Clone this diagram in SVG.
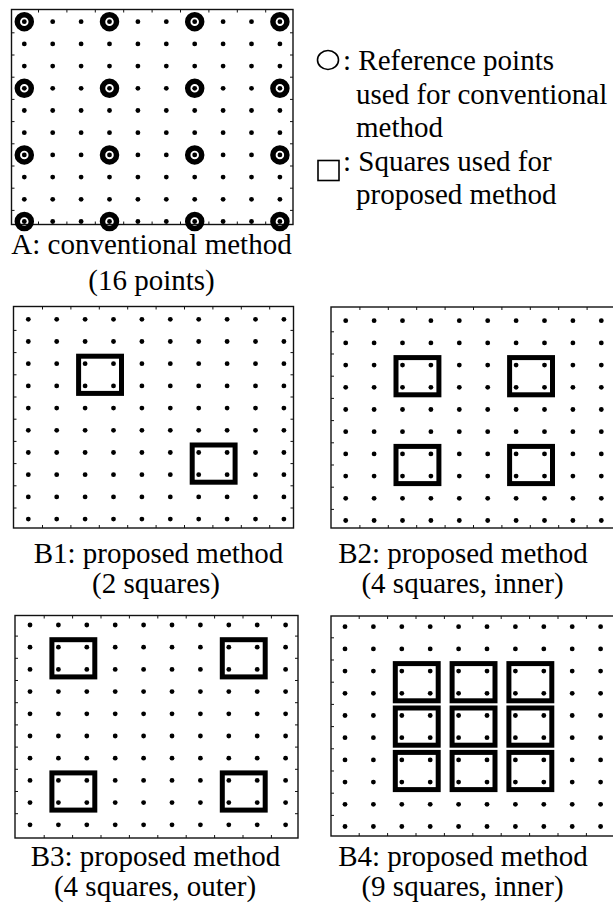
<svg xmlns="http://www.w3.org/2000/svg" width="613" height="905" viewBox="0 0 613 905">
<style>
.dot{fill:#000}
.frame{fill:none;stroke:#111;stroke-width:1.4}
.tick{fill:none;stroke:#111;stroke-width:1}
.ring{fill:none;stroke:#000;stroke-width:5.5}
.sq{fill:none;stroke:#000;stroke-width:5}
.sym{fill:none;stroke:#000;stroke-width:1.6}
text{font-family:"Liberation Serif","Times New Roman",serif;font-size:29px;fill:#000}
.c{text-anchor:middle}
</style>
<defs>
<g id="row">
<circle class="dot" cx="0" cy="0" r="2.4"/><circle class="dot" cx="28.4" cy="0" r="2.4"/><circle class="dot" cx="56.8" cy="0" r="2.4"/><circle class="dot" cx="85.2" cy="0" r="2.4"/><circle class="dot" cx="113.6" cy="0" r="2.4"/><circle class="dot" cx="142" cy="0" r="2.4"/><circle class="dot" cx="170.4" cy="0" r="2.4"/><circle class="dot" cx="198.8" cy="0" r="2.4"/><circle class="dot" cx="227.2" cy="0" r="2.4"/><circle class="dot" cx="255.6" cy="0" r="2.4"/>
</g>
<g id="grid">
<use href="#row" y="0"/><use href="#row" y="22.2"/><use href="#row" y="44.4"/><use href="#row" y="66.6"/><use href="#row" y="88.8"/><use href="#row" y="111"/><use href="#row" y="133.2"/><use href="#row" y="155.4"/><use href="#row" y="177.6"/><use href="#row" y="199.8"/>
</g>
<path id="ht" class="tick" d="M0 0v3M28.4 0v3M56.8 0v3M85.2 0v3M113.6 0v3M142 0v3M170.4 0v3M198.8 0v3M227.2 0v3"/>
<path id="vt" class="tick" d="M0 0h3M0 22.2h3M0 44.4h3M0 66.6h3M0 88.8h3M0 111h3M0 133.2h3M0 155.4h3M0 177.6h3"/>
</defs>
<rect x="0" y="0" width="613" height="905" fill="#fff"/>

<g id="panelA">
<rect class="frame" x="11.5" y="9.5" width="281.5" height="215"/>
<use href="#ht" x="38.5" y="9.5"/><use href="#ht" x="38.5" y="221.5"/>
<use href="#vt" x="11.5" y="32.8"/><use href="#vt" x="290" y="32.8"/>
<use href="#grid" x="24.3" y="21.7"/>
<circle class="ring" cx="24.3" cy="21.7" r="7"/><circle class="ring" cx="109.5" cy="21.7" r="7"/><circle class="ring" cx="194.7" cy="21.7" r="7"/><circle class="ring" cx="279.9" cy="21.7" r="7"/>
<circle class="ring" cx="24.3" cy="88.3" r="7"/><circle class="ring" cx="109.5" cy="88.3" r="7"/><circle class="ring" cx="194.7" cy="88.3" r="7"/><circle class="ring" cx="279.9" cy="88.3" r="7"/>
<circle class="ring" cx="24.3" cy="154.9" r="7"/><circle class="ring" cx="109.5" cy="154.9" r="7"/><circle class="ring" cx="194.7" cy="154.9" r="7"/><circle class="ring" cx="279.9" cy="154.9" r="7"/>
<circle class="ring" cx="24.3" cy="221.5" r="7"/><circle class="ring" cx="109.5" cy="221.5" r="7"/><circle class="ring" cx="194.7" cy="221.5" r="7"/><circle class="ring" cx="279.9" cy="221.5" r="7"/>
<text class="c" x="151.5" y="254">A: conventional method</text>
<text class="c" x="151.5" y="290">(16 points)</text>
</g>

<g id="legend">
<ellipse class="sym" cx="328" cy="60" rx="10.5" ry="9.5"/>
<text x="343" y="70">: Reference points</text>
<text x="356" y="103.5">used for conventional</text>
<text x="356" y="137">method</text>
<rect class="sym" x="318" y="160.5" width="21" height="20"/>
<text x="343" y="170.5">: Squares used for</text>
<text x="356" y="204">proposed method</text>
</g>

<g id="panelB1">
<rect class="frame" x="13.5" y="306.5" width="280" height="221.5"/>
<use href="#ht" x="42.5" y="306.5"/><use href="#ht" x="42.5" y="525"/>
<use href="#vt" x="13.5" y="330.4"/><use href="#vt" x="290.5" y="330.4"/>
<use href="#grid" x="28.3" y="319.3"/>
<rect class="sq" x="78.6" y="356.2" width="42.9" height="37.2"/>
<rect class="sq" x="192.2" y="445" width="42.9" height="37.2"/>
<text class="c" x="158.5" y="563">B1: proposed method</text>
<text class="c" x="156" y="593">(2 squares)</text>
</g>

<g id="panelB2">
<rect class="frame" x="331" y="307" width="290" height="221"/>
<use href="#ht" x="359.9" y="307"/><use href="#ht" x="359.9" y="525"/>
<use href="#vt" x="331" y="331.8"/>
<use href="#grid" x="345.7" y="320.7"/>
<rect class="sq" x="396" y="357.6" width="42.9" height="37.2"/>
<rect class="sq" x="509.6" y="357.6" width="42.9" height="37.2"/>
<rect class="sq" x="396" y="446.4" width="42.9" height="37.2"/>
<rect class="sq" x="509.6" y="446.4" width="42.9" height="37.2"/>
<text class="c" x="463" y="563">B2: proposed method</text>
<text class="c" x="462.5" y="593">(4 squares, inner)</text>
</g>

<g id="panelB3">
<rect class="frame" x="15" y="615.5" width="283" height="222.5"/>
<use href="#ht" x="44.2" y="615.5"/><use href="#ht" x="44.2" y="835"/>
<use href="#vt" x="15" y="636.1"/><use href="#vt" x="295" y="636.1"/>
<use href="#grid" x="30" y="625"/>
<rect class="sq" x="51.9" y="639.7" width="42.9" height="37.2"/>
<rect class="sq" x="222.3" y="639.7" width="42.9" height="37.2"/>
<rect class="sq" x="51.9" y="772.9" width="42.9" height="37.2"/>
<rect class="sq" x="222.3" y="772.9" width="42.9" height="37.2"/>
<text class="c" x="155.5" y="866">B3: proposed method</text>
<text class="c" x="155" y="896">(4 squares, outer)</text>
</g>

<g id="panelB4">
<rect class="frame" x="331" y="616" width="290" height="220"/>
<use href="#ht" x="359.2" y="616"/><use href="#ht" x="359.2" y="833"/>
<use href="#vt" x="331" y="637.8"/>
<use href="#grid" x="345" y="626.7"/>
<rect class="sq" x="395.3" y="663.6" width="42.9" height="37.2"/>
<rect class="sq" x="452.1" y="663.6" width="42.9" height="37.2"/>
<rect class="sq" x="508.9" y="663.6" width="42.9" height="37.2"/>
<rect class="sq" x="395.3" y="708" width="42.9" height="37.2"/>
<rect class="sq" x="452.1" y="708" width="42.9" height="37.2"/>
<rect class="sq" x="508.9" y="708" width="42.9" height="37.2"/>
<rect class="sq" x="395.3" y="752.4" width="42.9" height="37.2"/>
<rect class="sq" x="452.1" y="752.4" width="42.9" height="37.2"/>
<rect class="sq" x="508.9" y="752.4" width="42.9" height="37.2"/>
<text class="c" x="463" y="866">B4: proposed method</text>
<text class="c" x="462.5" y="896">(9 squares, inner)</text>
</g>
</svg>
